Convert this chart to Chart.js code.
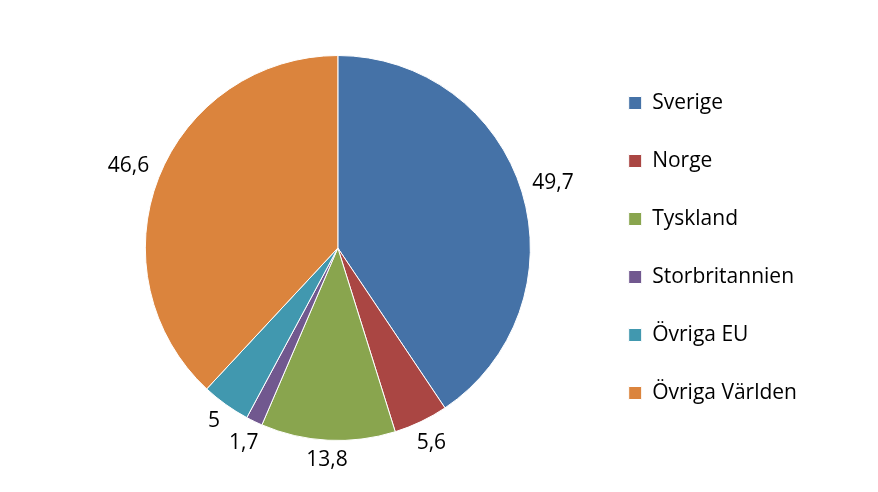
<!DOCTYPE html>
<html>
<head>
<meta charset="utf-8">
<script src="https://cdn.jsdelivr.net/npm/chart.js@4"></script>
<style>
  body { margin: 0; background: #fff; }
</style>
</head>
<body>
<canvas id="myChart" width="878" height="492"></canvas>
<script>
  // Data
  const categories = ['Sverige', 'Norge', 'Tyskland', 'Storbritannien', 'Övriga EU', 'Övriga Världen'];
  const values = [49.7, 5.6, 13.8, 1.7, 5, 46.6];
  const colors = ['#4572A7', '#AA4643', '#89A54E', '#71588F', '#4198AF', '#DB843D'];

  const fontFamily = "'Open Sans', 'DejaVu Sans', sans-serif";

  // Plugin för etiketter utanför tårtbitarna
  const outsideLabels = {
    id: 'outsideLabels',
    afterDatasetsDraw(chart) {
      const ctx = chart.ctx;
      const meta = chart.getDatasetMeta(0);
      ctx.save();
      ctx.font = '21px ' + fontFamily;
      ctx.fillStyle = '#000';
      ctx.textAlign = 'center';
      ctx.textBaseline = 'middle';
      meta.data.forEach((arc, i) => {
        const text = String(values[i]).replace('.', ',');
        const w = ctx.measureText(text).width;
        const h = 17;
        const mid = (arc.startAngle + arc.endAngle) / 2;
        const cx = Math.cos(mid);
        const sy = Math.sin(mid);
        const off = 10 + Math.abs(cx) * w / 2 + Math.abs(sy) * h / 2;
        const r = arc.outerRadius + off;
        ctx.fillText(text, arc.x + cx * r, arc.y + sy * r);
      });
      ctx.restore();
    }
  };

  const ctx = document.getElementById('myChart');
  const myChart = new Chart(ctx, {
    type: 'pie',
    data: {
      labels: categories,
      datasets: [
        {
          data: values,
          backgroundColor: colors,
          borderColor: '#ffffff',
          borderWidth: 1
        }
      ]
    },
    options: {
      responsive: false,
      animation: false,
      layout: {
        padding: { top: 55, bottom: 51, left: 84, right: 71 }
      },
      plugins: {
        legend: {
          position: 'right',
          labels: {
            boxWidth: 13,
            boxHeight: 13,
            padding: 37,
            color: '#000',
            font: { family: fontFamily, size: 21 }
          }
        },
        tooltip: { enabled: false }
      }
    },
    plugins: [outsideLabels]
  });
</script>
</body>
</html>
